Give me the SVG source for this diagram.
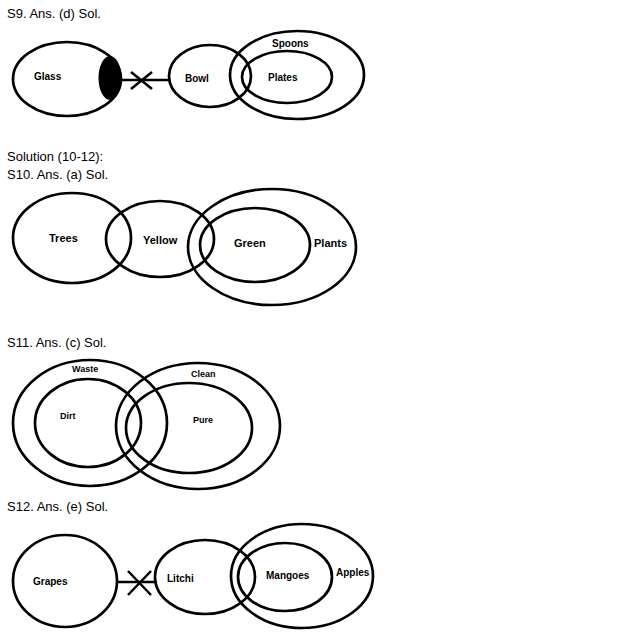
<svg xmlns="http://www.w3.org/2000/svg" width="617" height="643" viewBox="0 0 617 643">
<style>
.t{font-family:"Liberation Sans",Arial,sans-serif;font-size:13px;fill:#000}
.l{font-family:"Liberation Sans",Arial,sans-serif;font-weight:bold;fill:#000}
.e{fill:none;stroke:#000;stroke-width:2.7}
.c{stroke:#000;stroke-width:2.5;fill:none}
</style>
<rect width="617" height="643" fill="#fff"/>
<text class="t" x="7" y="18">S9. Ans. (d) Sol.</text>
<text class="t" x="7" y="161">Solution (10-12):</text>
<text class="t" x="7" y="179">S10. Ans. (a) Sol.</text>
<text class="t" x="7" y="347">S11. Ans. (c) Sol.</text>
<text class="t" x="7" y="511">S12. Ans. (e) Sol.</text>

<g id="s9-glass"><ellipse class="e" cx="67" cy="79" rx="54" ry="37"/><text class="l" font-size="10" x="34" y="80">Glass</text></g>
<g id="s9-glass-mark"><ellipse cx="110" cy="78" rx="11.5" ry="22" fill="#000"/></g>
<g id="s9-bowl"><ellipse class="e" cx="210" cy="76" rx="41" ry="31"/><text class="l" font-size="10" x="185" y="82">Bowl</text></g>
<g id="s9-spoons"><ellipse class="e" cx="297" cy="75" rx="67" ry="44"/><text class="l" font-size="10" x="272" y="47">Spoons</text></g>
<g id="s9-plates"><ellipse class="e" cx="287" cy="77" rx="45" ry="26"/><text class="l" font-size="10" x="268" y="81">Plates</text></g>

<g id="s10-trees"><ellipse class="e" cx="72" cy="238" rx="59" ry="45"/><text class="l" font-size="11" x="49" y="242">Trees</text></g>
<g id="s10-yellow"><ellipse class="e" cx="160" cy="239" rx="54" ry="38"/><text class="l" font-size="11" x="143" y="244">Yellow</text></g>
<g id="s10-plants"><ellipse class="e" cx="272" cy="247" rx="84" ry="58"/><text class="l" font-size="11" x="314" y="247">Plants</text></g>
<g id="s10-green"><ellipse class="e" cx="255" cy="245" rx="55" ry="37"/><text class="l" font-size="11" x="234" y="247">Green</text></g>

<g id="s11-waste"><ellipse class="e" cx="90" cy="423" rx="77" ry="63"/><text class="l" font-size="9" x="72" y="372">Waste</text></g>
<g id="s11-dirt"><ellipse class="e" cx="88" cy="423" rx="53" ry="44"/><text class="l" font-size="9" x="60" y="419">Dirt</text></g>
<g id="s11-clean"><ellipse class="e" cx="198" cy="426" rx="82" ry="63"/><text class="l" font-size="9" x="191" y="377">Clean</text></g>
<g id="s11-pure"><ellipse class="e" cx="189" cy="428" rx="63" ry="45"/><text class="l" font-size="9" x="193" y="423">Pure</text></g>

<g id="s12-grapes"><ellipse class="e" cx="65" cy="581" rx="52" ry="46"/><text class="l" font-size="10" x="33" y="585">Grapes</text></g>
<g id="s12-litchi"><ellipse class="e" cx="205" cy="577" rx="50" ry="37"/><text class="l" font-size="10" x="167" y="582">Litchi</text></g>
<g id="s12-apples"><ellipse class="e" cx="302" cy="576" rx="71" ry="52"/><text class="l" font-size="10" x="336" y="576">Apples</text></g>
<g id="s12-mangoes"><ellipse class="e" cx="285" cy="577" rx="47" ry="34"/><text class="l" font-size="10" x="266" y="579">Mangoes</text></g>

<g id="connectors">
<line class="c" x1="121" y1="80" x2="169" y2="80"/>
<line class="c" x1="131" y1="72" x2="152" y2="89"/>
<line class="c" x1="131" y1="89" x2="152" y2="72"/>
<line class="c" x1="117" y1="582" x2="157" y2="582"/>
<line class="c" x1="128" y1="595" x2="151" y2="571"/>
<line class="c" x1="128" y1="571" x2="151" y2="595"/>
</g>
</svg>
